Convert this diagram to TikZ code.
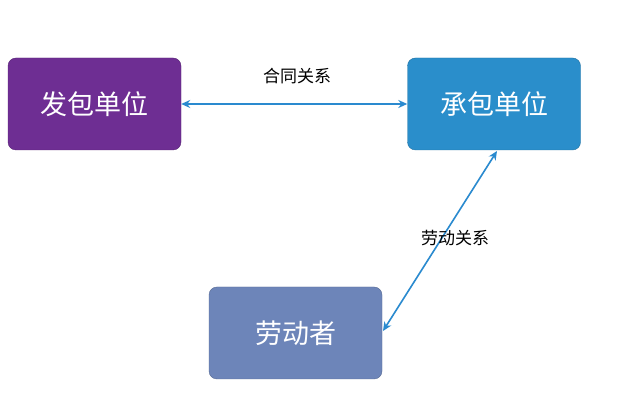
\documentclass[tikz,border=0pt]{standalone}
\usepackage{fontspec}
\newfontfamily\cjk{Noto Sans CJK SC}
\usetikzlibrary{arrows.meta}
\definecolor{purp}{HTML}{6E2E93}
\definecolor{blu}{HTML}{2A8ECB}
\definecolor{slate}{HTML}{6D85B9}
\definecolor{arr}{HTML}{2A8ACF}
\tikzset{box/.style={draw=#1!80!black,fill=#1,rounded corners=8pt,minimum width=173pt,minimum height=92pt,text=white,font=\cjk\fontsize{27}{30}\selectfont,inner sep=0pt},
lab/.style={font=\cjk\fontsize{17}{20}\selectfont,text=black},
conn/.style={draw=arr,line width=1.6pt,{Stealth[length=9pt,width=8pt]}-{Stealth[length=9pt,width=8pt]}}}
\begin{document}
\begin{tikzpicture}[x=1pt,y=-1pt]
\useasboundingbox[fill=white] (0,0) rectangle (640,419);
\node[box=purp] (a) at (94.5,104) {发包单位};
\node[box=blu] (b) at (494,104) {承包单位};
\node[box=slate] (c) at (295.5,333) {劳动者};
\draw[conn] (a.east) -- (b.west);
\coordinate (bt) at (497,151);
\coordinate (ct) at (383,331);
\draw[conn] (bt) -- (ct);
\node[lab] at (297,76) {合同关系};
\node[lab] at (455,238) {劳动关系};
\end{tikzpicture}
\end{document}
